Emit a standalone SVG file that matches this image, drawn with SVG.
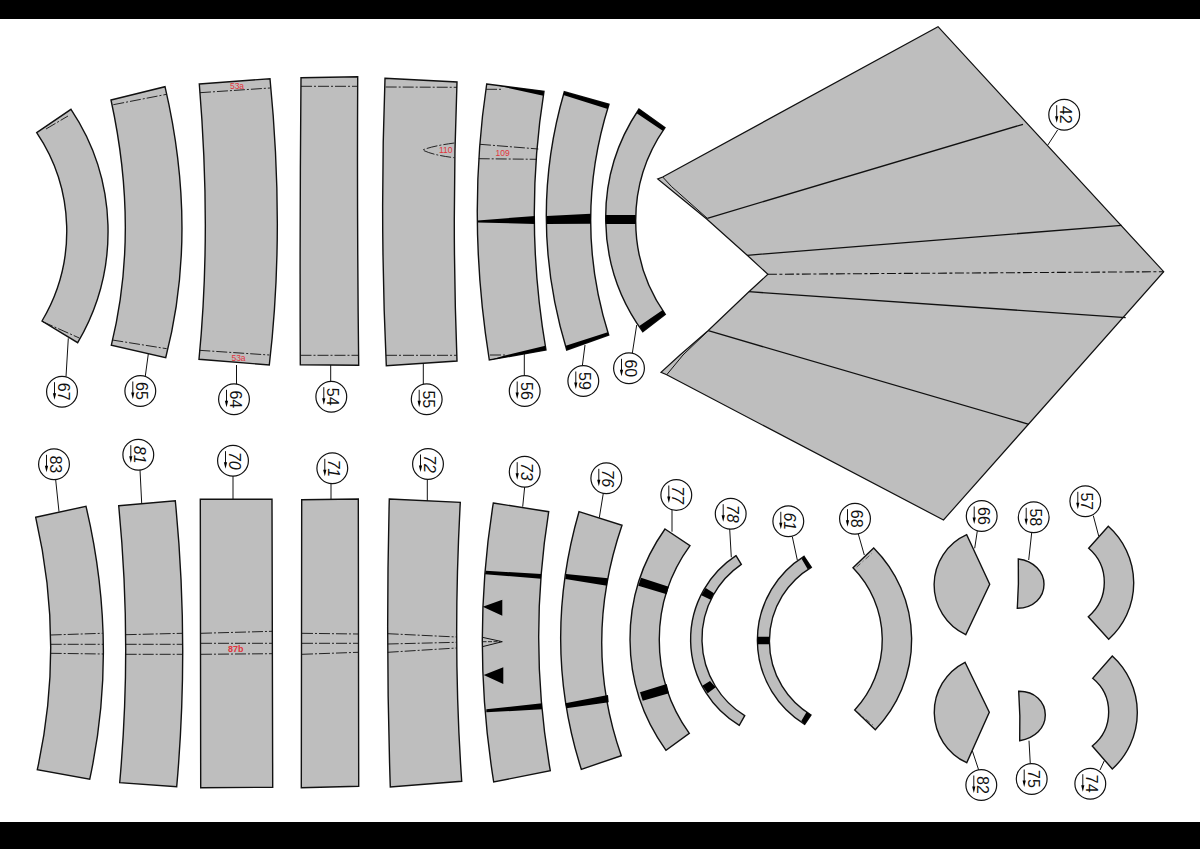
<svg xmlns="http://www.w3.org/2000/svg" width="1200" height="849" viewBox="0 0 1200 849">
<style>
.p{fill:#bebebe;stroke:#111;stroke-width:1.4;stroke-linejoin:miter}
.d{fill:none;stroke:#111;stroke-width:.9;stroke-dasharray:11 2 2 2}
.h{fill:none;stroke:#111;stroke-width:1.1;stroke-dasharray:9 2.5 3 2.5}
.s{fill:none;stroke:#111;stroke-width:1.3}
.b{fill:#000}
.l{stroke:#111;stroke-width:1;fill:none}
.c{fill:#fff;stroke:#111;stroke-width:1.2}
.n{font-family:"Liberation Sans",Arial,sans-serif;font-size:16px;text-anchor:middle;fill:#111}
.i{font-style:italic}
.r{font-family:"Liberation Sans",Arial,sans-serif;font-size:8.5px;text-anchor:middle;fill:#e2343c}
</style>
<defs>
<g id="tag"><circle class="c" r="15.4"/><path class="l" d="M-7.5 -9.5V3"/><path class="b" d="M-9.1 1.5H-5.9L-7.5 8Z"/></g>
</defs>
<rect width="1200" height="849" fill="#fff"/>
<rect width="1200" height="19" fill="#000"/>
<rect y="822" width="1200" height="27" fill="#000"/>
<g id="connectors" class="l">
<path d="M68.3 338.3L66 376.7"/><path d="M148.3 354L145.3 376"/><path d="M236.5 365V385"/><path d="M330.7 365V382.3"/><path d="M423.3 363V385"/><path d="M524.3 354V376"/><path d="M585 345L582.3 366"/><path d="M636.7 325L632.3 353.3"/><path d="M1047.2 146L1057.6 130"/>
<path d="M59 511.7L55.7 480"/><path d="M141.7 503.3L140 470"/><path d="M233 499V476"/><path d="M331 499V483"/><path d="M427.3 501V479.3"/><path d="M522.7 506.7L524.7 486.7"/><path d="M599.3 517.7L603.3 493.3"/><path d="M672 531.7V510"/><path d="M731.3 557.3L729.7 529"/><path d="M797.3 560L792.3 536.7"/><path d="M864.3 555L858.3 534"/><path d="M974.7 548.3L977.3 531"/><path d="M1028.7 560L1031.7 532.7"/><path d="M1098.7 536L1093.3 515.7"/><path d="M972.3 750.7L978.7 770"/><path d="M1029 740.7L1030.3 764"/><path d="M1104.3 760.7L1100 770"/>
</g>
<g id="piece-67"><path class="p" d="M36.7 132.7L71 109.3A219.5 219.5 0 0 1 77.7 342.7L42 321A175.9 175.9 0 0 0 36.7 132.7Z"/><path class="d" d="M46 129L68 116M42.7 321.7L79.3 338"/><use href="#tag" x="62" y="391.7"/><text class="n" transform="translate(62 391.7) rotate(90)" y="4">67</text></g>
<g id="piece-65"><path class="p" d="M111 100L165 86.7Q198.6 231 165.7 357.7L111.3 345.3Q139.5 231 111 100Z"/><path class="d" d="M113.3 104.7L166.7 94.3M112.3 340L166.7 348.7"/><use href="#tag" x="140.3" y="391"/><text class="n" transform="translate(140.3 391) rotate(90)" y="4">65</text></g>
<g id="piece-64"><path class="p" d="M199.3 84L270 78.7Q285 231.5 269.3 365L199 359.3Q211.5 231.7 199.3 84Z"/><path class="d" d="M200 92.7L270 88M199.3 350.3L269.3 355"/><text class="r" x="237" y="89">53a</text><text class="r" x="238.5" y="360.5">53a</text><use href="#tag" x="234" y="399.3"/><text class="n" transform="translate(234 399.3) rotate(90)" y="4">64</text></g>
<g id="piece-54"><path class="p" d="M301 77.7L357.7 76.7Q357 221 358.7 365.3L300.3 364.7Q299.7 221 301 77.7Z"/><path class="d" d="M301 86.3H357.7M300.5 355.3H358.5"/><use href="#tag" x="331.3" y="396.7"/><text class="n" transform="translate(331.3 396.7) rotate(90)" y="4">54</text></g>
<g id="piece-55"><path class="p" d="M385 78.3L457 82Q451.6 218.5 457 361L386.3 365.7Q379.7 222 385 78.3Z"/><path class="d" d="M385.7 87L457 87.3M386 355.3H457M454.3 143Q432 146 422.7 150Q432 155 454.3 157.7"/><text class="r" x="445.7" y="153.3">110</text><use href="#tag" x="426.7" y="399.3"/><text class="n" transform="translate(426.7 399.3) rotate(90)" y="4">55</text></g>
<g id="piece-56"><path class="p" d="M486.7 84L544 91.3Q523.6 219.4 546 350L489.3 360Q466.6 218 486.7 84Z"/><path class="b" d="M495 85L544 91.3L543.3 95.7ZM477.7 220.5L535 216V224L478 222.5ZM503 356L545.3 345.7L546 350L490 360Z"/><path class="d" d="M486 89.3H503M480 144.3L538.3 149M478.7 158.7L536.7 159.3M490 355H506.7"/><text class="r" x="502.7" y="156.3">109</text><use href="#tag" x="524.7" y="391"/><text class="n" transform="translate(524.7 391) rotate(90)" y="4">56</text></g>
<g id="piece-59"><path class="p" d="M564.3 91.7L609 104.3Q572.5 220.3 608.7 335L566.7 350Q527.1 219.2 564.3 91.7Z"/><path class="b" d="M564.3 91.7L609 104.3L607.7 109L563.3 95ZM546.7 216L590.7 213.7V223.7L546.7 224ZM608.7 335L566.7 350L565.7 345.7L607.7 332.3Z"/><use href="#tag" x="583.3" y="381"/><text class="n" transform="translate(583.3 381) rotate(90)" y="4">59</text></g>
<g id="piece-60"><path class="p" d="M639 109L665 127.7A162.5 162.5 0 0 0 665.3 314.3L642.7 331.7A194 194 0 0 1 639 109Z"/><path class="b" d="M639 109L665 127.7L662.7 130.7L636.7 113.3ZM605.7 215H635.7V224H605.7ZM662.7 310L665.3 314.3L642.7 331.7L639.3 326Z"/><use href="#tag" x="629" y="368.3"/><text class="n" transform="translate(629 368.3) rotate(90)" y="4">60</text></g>
<g id="piece-42"><path class="p" style="stroke-width:1.2" d="M938 26.7L1163.7 271.7L943.5 520L666.7 374.8L661 372.3L680 355L708 330.7L748.9 291.7L767.9 274.3L747.2 255.3L706.7 219L670 189L657.7 179L662.7 177Z"/><path class="s" d="M707.3 218.3L1023 124.3M747.2 255.3L1121.6 225.3M748.9 291.7L1125.7 317.7M708.3 330.7L1028.9 424.3"/><path class="l" d="M662.7 177L671.7 186.7L707.3 218.3M666.7 374.8L683 355L708.3 330.7"/><path class="h" d="M767.9 274.3L1163.7 271.7"/><use href="#tag" x="1064.2" y="114.7"/><text class="n" transform="translate(1064.2 114.7) rotate(90)" y="4">42</text></g>
<g id="piece-83"><path class="p" d="M35.7 517.3L86 506.3Q118.8 645.2 89.7 779.3L37.3 769.7Q64.9 644.5 35.7 517.3Z"/><path class="d" d="M50.7 635L102.7 633.3M50.7 644.3H103.3M50.7 653.3L103 654"/><use href="#tag" x="54" y="464.3"/><text class="n" transform="translate(54 464.3) rotate(90)" y="4">83</text></g>
<g id="piece-81"><path class="p" d="M118.7 505.7L175.3 500.7Q189.4 644.3 176.7 786.7L119.7 782.7Q132.2 643.8 118.7 505.7Z"/><path class="d" d="M125.7 634.7L182.3 633.3M125.7 644.3H182.7M125.7 654.3H182.7"/><use href="#tag" x="138.3" y="454.7"/><text class="n i" transform="translate(138.3 454.7) rotate(90)" y="4">81</text></g>
<g id="piece-70"><path class="p" d="M200.3 499.3H272L272.7 787.3L200.7 787.7Z"/><path class="d" d="M201 633.3L272 631.3M201 643.3H272M201 654.3L272 653.7"/><text class="r" style="font-weight:bold;font-size:9px" x="235.7" y="651.6">87b</text><use href="#tag" x="233" y="460.7"/><text class="n i" transform="translate(233 460.7) rotate(90)" y="4">70</text></g>
<g id="piece-71"><path class="p" d="M301.7 499.7L358.3 499L358.7 786.3L301.3 787.7Z"/><path class="d" d="M302 633.3L358 634M302 643.3H358M302 654.3L358 652.3"/><use href="#tag" x="332.3" y="468.3"/><text class="n i" transform="translate(332.3 468.3) rotate(90)" y="4">71</text></g>
<g id="piece-72"><path class="p" d="M389.3 499L460.3 502.3Q452.4 646.2 461.7 781.3L390.3 787Q385.6 645 389.3 499Z"/><path class="d" d="M387.7 633.7L456.7 637M387.7 644L456.7 642.3M387.7 652.3L456.7 648"/><use href="#tag" x="428" y="464"/><text class="n i" transform="translate(428 464) rotate(90)" y="4">72</text></g>
<g id="piece-73"><path class="p" d="M493.3 503L548.7 511.7Q527.9 642.2 550.3 770.7L493.7 782Q471.1 640.9 493.3 503Z"/><path class="b" d="M485.7 570.7L541.3 574L541 578.7L485 574.3ZM486.3 709.3L542 703.3V709.3L486.3 712.3ZM482.7 606.7L502.3 599.7V615.7ZM483.7 675L503.3 667.3V684Z"/><path class="l" d="M482.3 637.3L502.3 641.7L482.3 646.7"/><path class="d" style="stroke-dasharray:4 1.5" d="M482.5 641.7H500"/><use href="#tag" x="524.7" y="471.7"/><text class="n i" transform="translate(524.7 471.7) rotate(90)" y="4">73</text></g>
<g id="piece-76"><path class="p" d="M579 511.7L622 525.3Q581.8 642.9 621.3 755.7L581.3 769.3Q541.2 642.9 579 511.7Z"/><path class="b" d="M566 574L608 578.3L607 585.7L565.3 579ZM565.3 703.3L608 695L608.7 702.3L566.3 708.3Z"/><use href="#tag" x="606.3" y="478.3"/><text class="n i" transform="translate(606.3 478.3) rotate(90)" y="4">76</text></g>
<g id="piece-77"><path class="p" d="M665 529L690 545.7A160 160 0 0 0 689.3 733.3L666 750.3A190.3 190.3 0 0 1 665 529Z"/><path class="b" d="M641 577.7L668.7 586.7L666.7 594.3L638.3 585.7ZM640 692.3L666.7 684L669 693.3L642.7 700.7Z"/><use href="#tag" x="676.3" y="495"/><text class="n i" transform="translate(676.3 495) rotate(90)" y="4">77</text></g>
<g id="piece-78"><path class="p" d="M736 555.7L741.3 564.3A90.4 90.4 0 0 0 744.7 715.7L739.3 725.3A100 100 0 0 1 736 555.7Z"/><path class="b" d="M705.7 588L714 593.3L710.7 599.7L701.3 595.3ZM702.3 685.7L710 681L715.7 687.3L707.7 693.3Z"/><use href="#tag" x="730.7" y="513.7"/><text class="n i" transform="translate(730.7 513.7) rotate(90)" y="4">78</text></g>
<g id="piece-61"><path class="p" d="M804 556.3L811.3 567.3A86.2 86.2 0 0 0 811 715L804.7 724.3A98.6 98.6 0 0 1 804 556.3Z"/><path class="b" d="M804 556.3L811.3 567.3L807.7 569.3L801.7 559ZM757.3 636.7H769.3V644.3H757.3ZM811 715L804.7 724.3L801.3 721L806.7 711.7Z"/><use href="#tag" x="788.3" y="521.3"/><text class="n i" transform="translate(788.3 521.3) rotate(90)" y="4">61</text></g>
<g id="piece-68"><path class="p" d="M853 567.7L873.7 548A129.7 129.7 0 0 1 875.3 729.7L854.7 710A103.3 103.3 0 0 0 853 567.7Z"/><path class="d" style="stroke-dasharray:5 3 1 3;stroke-width:.6" d="M856.7 567L872 553.3M856.7 711.7L875 726.7"/><use href="#tag" x="855" y="518.7"/><text class="n" transform="translate(855 518.7) rotate(90)" y="4">68</text></g>
<g id="piece-66"><path class="p" d="M966.7 534.7L989.7 584.3L965.7 634.7A55 55 0 0 1 966.7 534.7Z"/><use href="#tag" x="981.7" y="516"/><text class="n" transform="translate(981.7 516) rotate(90)" y="4">66</text></g>
<g id="piece-58"><path class="p" d="M1018.3 559C1034 561 1044 572 1044 584.3C1044 597 1034 608 1017.3 608.3Q1019 584 1018.3 559Z"/><use href="#tag" x="1033.7" y="517.3"/><text class="n" transform="translate(1033.7 517.3) rotate(90)" y="4">58</text></g>
<g id="piece-57"><path class="p" d="M1108.3 526.3A75.9 75.9 0 0 1 1108.7 639.3L1088.3 616.7A44.9 44.9 0 0 0 1088.7 548.3Z"/><use href="#tag" x="1085.3" y="501.3"/><text class="n" transform="translate(1085.3 501.3) rotate(90)" y="4">57</text></g>
<g id="piece-82"><path class="p" d="M965 662.3L989.3 712.3L966.7 762.7A55.7 55.7 0 0 1 965 662.3Z"/><use href="#tag" x="981.3" y="785"/><text class="n" transform="translate(981.3 785) rotate(90)" y="4">82</text></g>
<g id="piece-75"><path class="p" d="M1018.7 691.3C1035 691 1045.3 702 1045.3 715C1045.3 728 1035 738 1019.7 740.7Q1020.5 716 1018.7 691.3Z"/><use href="#tag" x="1031.7" y="779"/><text class="n" transform="translate(1031.7 779) rotate(90)" y="4">75</text></g>
<g id="piece-74"><path class="p" d="M1112.3 656A76.3 76.3 0 0 1 1112.3 769L1092.3 746A43.5 43.5 0 0 0 1092.7 678.3Z"/><use href="#tag" x="1090.3" y="783.7"/><text class="n" transform="translate(1090.3 783.7) rotate(90)" y="4">74</text></g>
</svg>
